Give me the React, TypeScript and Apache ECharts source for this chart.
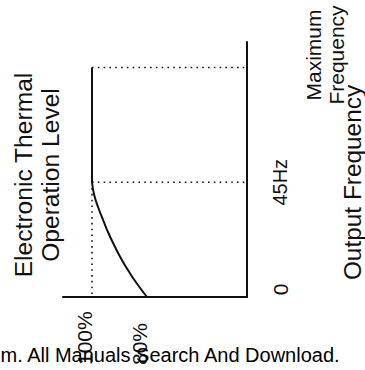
import React, { useEffect, useRef } from 'react';
import * as echarts from 'echarts';

// Axis ticks and labels
const levelTicks = [80, 100];
const levelTickLabels = ['80%', '100%'];
const freqTicks = [0, 45, 90];
const freqTickLabels = ['0', '45Hz', 'Maximum\nFrequency'];

// Solid characteristic: constant 100% from max frequency down to 45Hz
const plateauLevel = [100, 100];
const plateauFreq = [90, 45];
// Reduced level below 45Hz
const curveLevel = [100, 99.2, 97.7, 95.9, 94, 91.8, 89.4, 86.6, 83.5, 80];
const curveFreq = [45, 40, 35, 30, 25, 20, 15, 10, 5, 0];

// Axis ranges
const LEVEL_MIN = 43.64;
const LEVEL_MAX = 110.55;
const FREQ_MIN = 0;
const FREQ_MAX = 100;

const FONT = "'Liberation Sans', Arial, sans-serif";
const INK = '#111';

export default function App() {
  const ref = useRef<HTMLDivElement>(null);
  useEffect(() => {
    if (!ref.current) return;
    const chart = echarts.init(ref.current, undefined, { renderer: 'svg' });
    const pair = (xs: number[], ys: number[]) => xs.map((x, i) => [x, ys[i]]);
    const maxF = freqTicks[2];
    const midF = freqTicks[1];
    const fullLevel = levelTicks[1];
    const dotted = {
      type: 'line',
      symbol: 'none',
      silent: true,
      lineStyle: { color: INK, width: 1.6, type: [1.6, 4.2], cap: 'butt' },
    };
    chart.setOption({
      animation: false,
      grid: { left: 63, right: 118, top: 42, bottom: 73, containLabel: false, outerBoundsMode: 'none' },
      xAxis: {
        type: 'value',
        inverse: true,
        min: LEVEL_MIN,
        max: LEVEL_MAX,
        position: 'bottom',
        axisLine: { onZero: false, lineStyle: { color: INK, width: 2 } },
        axisTick: { show: false },
        splitLine: { show: false },
        axisLabel: {
          customValues: levelTicks,
          rotate: 90,
          align: 'left',
          verticalAlign: 'bottom',
          lineHeight: 15,
          margin: 68,
          fontSize: 21,
          fontFamily: FONT,
          color: INK,
          formatter: (v: number) => levelTickLabels[levelTicks.indexOf(v)] ?? '',
        },
      },
      yAxis: {
        type: 'value',
        position: 'right',
        min: FREQ_MIN,
        max: FREQ_MAX,
        axisLine: { onZero: false, lineStyle: { color: INK, width: 2 } },
        axisTick: { show: false },
        splitLine: { show: false },
        name: 'Output Frequency',
        nameLocation: 'middle',
        nameRotate: 90,
        nameGap: 93,
        nameMoveOverlap: false,
        nameTextStyle: {
          fontSize: 24.4,
          fontFamily: FONT,
          color: INK,
          padding: [0, 26, 0, 0],
        },
        axisLabel: {
          customValues: freqTicks,
          rotate: 90,
          margin: 23,
          fontSize: 21,
          fontFamily: FONT,
          color: INK,
          formatter: (v: number) => {
            const i = freqTicks.indexOf(v);
            const t = freqTickLabels[i] ?? '';
            if (i === 0) return `{z|${t}}`;
            if (i === 1) return `{h|${t}}`;
            const [a, b] = t.split('\n');
            return `{sp| }\n{ma|${a}}\n{mb|${b}}`;
          },
          rich: {
            z: { fontSize: 21, fontFamily: FONT, color: INK, padding: [0, 0, 0, 15] },
            h: { fontSize: 20, fontFamily: FONT, color: INK },
            sp: { fontSize: 4, lineHeight: 32, height: 32, fontFamily: FONT },
            ma: { fontSize: 21, lineHeight: 23, fontFamily: FONT, color: INK, padding: [0, 0, 0, 25] },
            mb: { fontSize: 21, lineHeight: 23, fontFamily: FONT, color: INK, padding: [0, 0, 0, 25] },
          },
        },
      },
      graphic: [
        {
          type: 'text',
          x: 36.5,
          y: 175,
          rotation: Math.PI / 2,
          style: {
            text: 'Electronic Thermal\nOperation Level',
            x: 0,
            y: 0,
            font: `24.6px ${FONT}`,
            fill: INK,
            align: 'center',
            verticalAlign: 'middle',
            textAlign: 'center',
            textVerticalAlign: 'middle',
            lineHeight: 27,
          },
        },
        {
          type: 'text',
          x: 0.5,
          y: 355,
          z: 100,
          style: {
            text: 'm. All Manuals Search And Download.',
            font: `20px ${FONT}`,
            fill: '#000',
            align: 'left',
            verticalAlign: 'middle',
            textAlign: 'left',
            textVerticalAlign: 'middle',
          },
        },
      ],
      series: [
        {
          type: 'line',
          symbol: 'none',
          silent: true,
          data: pair(plateauLevel, plateauFreq),
          lineStyle: { color: INK, width: 2 },
        },
        {
          type: 'line',
          symbol: 'none',
          silent: true,
          smooth: true,
          data: pair(curveLevel, curveFreq),
          lineStyle: { color: INK, width: 2 },
        },
        { ...dotted, data: [[fullLevel, maxF], [LEVEL_MIN, maxF]] },
        { ...dotted, data: [[fullLevel, midF], [LEVEL_MIN, midF]] },
        { ...dotted, data: [[fullLevel, midF], [fullLevel, FREQ_MIN]] },
      ],
    });
    return () => chart.dispose();
  }, []);
  return (
    <div
      ref={ref}
      style={{ position: 'fixed', left: 0, top: 0, width: 365, height: 370, background: '#fff' }}
    />
  );
}
